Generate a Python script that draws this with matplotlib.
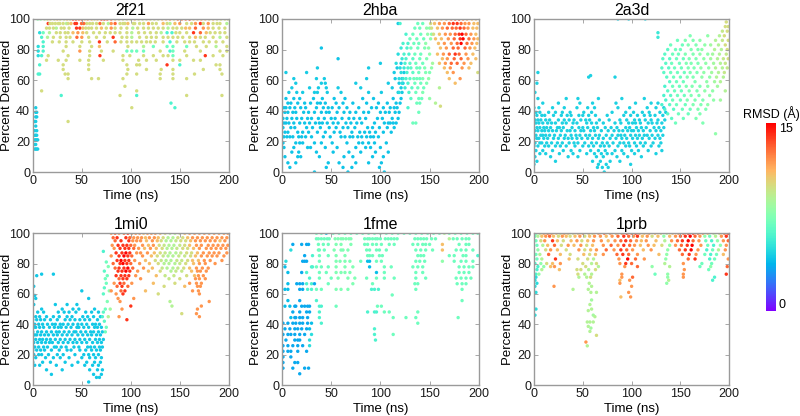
import numpy as np
import matplotlib
matplotlib.use("Agg")
import matplotlib.pyplot as plt

plt.rcParams['font.family'] = ['Liberation Sans', 'DejaVu Sans']

TITLES = ["2f21", "2hba", "2a3d", "1mi0", "1fme", "1prb"]
X_TICKS = [0, 50, 100, 150, 200]
Y_TICKS = [0, 20, 40, 60, 80, 100]
CBAR_TICKS = [0, 15]
RMSD_MIN, RMSD_MAX = 0, 15
X_LABEL = "Time (ns)"
Y_LABEL = "Percent Denatured"
CBAR_LABEL = "RMSD (Å)"

# Each row: (percent denatured, [times ns], rmsd list or single rmsd)
ROWS_2F21 = [
    (100, [5,8,12,15,18,22,25,28,32,35,38,41,44,47,50,53,56,60,63,66,70,73,76,80,84,88,92,96,100,104,
           108,112,116,120,124,128,132,136,140,144,148,152,156,160,164,168,172,176,180,184,188,192,196,199],
          [8,8,9,10,10,10,11,10,10,11,10,14,14,13,14,11,12,11,10,11,14,14,13,13,11,10,10,10,10,11,
           10,10,10,10,10,10,11,11,12,10,13,13,13,14,11,11,12,11,10,11,10,10,10,10]),
    (97, [15.7,17.4,26,27.6,31,34.4,36,43,44.6,49.7,55,58,65,68.5,72,77,84,89,94,97,102.5,104,109,118,126,133,140,150,157,162,171,174,179,184,191,198],
         [14,10,10,10,10,9,10,14,14,13,10,10,10,13,10,9,13,10,10,11,10,10,10,12,10,11,9,12,10,10,14,10,12,10,10,9]),
    (97, [20,23,39,52,61,80,92,113,122,137,145,166,188], [10,10,11,13,10,12,10,10,10,10,11,12,10]),
    (94, [14,21,24,29,44.6,48,51,57,60,65,75,84,96,102,113,123,128,138,147,152,160,174,184,196],
         [10,10,9,10,14,14,11,10,10,10,10,10,10,9,10,10,10,9,10,10,11,12,10,10]),
    (94, [17,32,37,54,70,80,90,107,118,133,143,156,166,179,190], [10,10,10,10,11,12,10,10,10,10,10,11,13,11,10]),
    (91, [7,10.6,17,24,33,36,41,55,68,79,89,96,101,108,120,137,142,150,164,171,181,191],
         [5,7,9,10,10,10,11,10,10,10,10,10,9,10,10,6,6,10,14,13,10,10]),
    (91, [28,46,51,62,74,84,114,126,131,146,157,177,186,196], [10,12,11,10,10,10,10,10,9,10,10,11,10,10]),
    (88, [9,21,28,34,38,57,65,82,91,101,109,116,126,133,143,153,160,171,184,191,198],
         [6,10,10,10,10,10,10,14,10,9,10,10,10,10,10,10,10,10,10,9,10]),
    (88, [15,45,50,73,96,121,138,148,166,176], [9,13,12,10,10,10,10,10,11,10]),
    (85, [10.6,34,41,58,68,84,96,106,116,125,133,140,147,155,165,174,187,194],
         [6,10,10,10,14,13,10,10,10,10,10,6,10,10,10,10,10,10]),
    (85, [20,27,50,76,90,101,111,120,160,180], 10),
    (82, [5.5,10.6,34,48,60,68,97,113,123,137,143,157,167,177,187,198],
         [5,6,10,10,10,11,10,9,7,7,7,7,10,10,9,10]),
    (79, [5.5,10.6,31,48,58,70,82,96,101,106,113,130,140,143,155,171,191,198],
         [5,6,10,12,10,10,10,7,7,7,7,10,6,7,10,10,10,10]),
    (76, [5.5,9,15.7,36,58,68.5,92,99,113,123,133,138,143,157,176,184,194],
         [5,6,10,10,10,14,10,10,10,10,10,10,7,10,14,10,10]),
    (73, [14,26,34,48,57,72,92,108,116,126,143,150,164,171], 10),
    (70, [7,31,57,96,106,109,137,150,187,191], [6,10,10,10,10,10,14,6,10,10]),
    (67, [31,57,97,116,131,143,174,191], 10),
    (64, [5.5,7,33,36,96,106,130,143,165,193], [6,6,10,10,10,10,10,10,10,10]),
    (61, [36,60,67,92,130,143,157], 10),
    (56, [94], 10),
    (53, [9,106], 10),
    (50, [29,89,106,157,193], [6,10,6,10,10]),
    (45, [141], 6),
    (42, [101,145], [10,6]),
    (33, [36], 10),
    (42, [3], 4.5), (39, [3,4], 4.5), (36, [3,4], 4.5), (33, [2,3], 4.5), (30, [3], 4.5),
    (27, [2,4], 4.5), (24, [2,3,4], 4.5), (21, [2,3,4,5], 4.5), (18, [2,3], 4.5), (15, [2,3,4,5], 4.5),
]

ROWS_2HBA = [
    (0, [33,67,104], 4.2),
    (3, [8,45,62,71,99], 4.2),
    (6, [6,14,47,58,75,88,101], 4.2),
    (10, [3,16,19,38,63,72,92,103], 4.2),
    (13, [10,17,35,52,68,80,95,108], 4.2),
    (16, [2,12,26,29,44,56,75,85,90,100], 4.2),
    (19, [1,14,18,21,33,40,51,66,78,82,88,94,106], 4.2),
    (23, [0,2,5,8,11,17,20,24,30,42,49,60,64,69,72,77,81,86,90,93,98], 4.2),
    (26, [3,6,16,21,27,36,44,53,59,71,79,84,89,95,103,111], 4.2),
    (29, [1,9,13,25,31,39,48,55,62,67,74,87,92,99,107,114], 4.2),
    (32, [0,2,4,7,12,18,23,28,34,38,41,46,52,57,65,70,76,81,94,104,108,110,113,116], 4.2),
    (35, [1,5,10,15,20,26,30,37,43,50,54,61,68,73,79,85,97,102,112,118], 4.2),
    (39, [0,3,6,11,14,22,27,33,40,45,48,56,63,69,75,83,88,100,105,109,115,119], 4.2),
    (42, [2,4,8,13,19,24,35,42,47,51,58,66,78,91,96,103,110,114,117], 4.2),
    (45, [6,9,16,23,29,36,39,44,55,62,72,86,98,107,116,120], 4.2),
    (48, [4,12,18,32,41,53,64,82,93,113,121], 4.2),
    (52, [7,15,21,33,36,46,60,88,101,118,122], 4.4),
    (55, [10,28,37,45,57,80,112,121], 4.4),
    (58, [14,40,44,75,108,119,123], 4.4),
    (61, [12,35,43,86,115,122], 4.4),
    (65, [4,25,114,124], 4.4),
    (68, [36,88,117], 4.4),
    (71, [100,121], 4.4),
    (74, [57], 4.2),
    (81, [40], 4.2),
    (97, [118], 4.5),
    # transition
    (97, [120,138,143], [6,7,7]),
    (94, [135,140,147,150], [7,7,8,8]),
    (90, [126,133,141,148,152], [6,7,7,8,8]),
    (87, [130,137,144,151], [7,7,7,8]),
    (84, [123,128,134,139,146], [6,6,7,7,8]),
    (81, [121,127,131,138,145,149], [5.5,6,7,7,7.5,8]),
    (77, [118,124,129,135,141,150], [5,6,6,7,7,8]),
    (74, [122,126,133,140,147], [5.5,6,6.5,7,7.5]),
    (71, [116,125,130,136,143,153], [5,6,6.5,7,7,8.5]),
    (68, [120,124,128,131,137,140,145,152], [5,5.5,6,6.5,7,7,7.5,8]),
    (65, [121,127,133,139,146,150], [5,6,6.5,7,7.5,7.5]),
    (61, [119,123,126,130,134,137,140,143,149], [5,5.5,6,6.5,7,7,7,7.5,8]),
    (58, [122,128,135,141,147], [5,6,7,7,7.5]),
    (55, [125,132,138,144,160], [5.5,6.5,7,7,9]),
    (52, [119,129,136,143], [5,6,7,7.5]),
    (48, [131,139,142,150], [6.5,7,7,8]),
    (45, [137,140,156], [7,7,9]),
    (43, [161], [10]),
    (42, [128], [6]),
    (39, [139], [7]),
    (32, [133,136], [7,7]),
    # unfolded
    (100, [153,157,162,167,172,176,180,184,188,193,197], [10,11,11,12,13,14,14,13,12,11,11]),
    (97, [151,155,160,165,170,174,178,182,186,190,195,199], [10,11,12,12,13,14,14,13,12,12,11,11]),
    (94, [152,158,163,168,173,177,181,185,189,194,198], [10,11,12,13,13,13,14,13,12,11,11]),
    (90, [154,160,166,171,176,180,183,187,192,197], [10,11,12,12,13,14,15,13,12,11]),
    (87, [156,162,169,175,181,184,190,195,199], [11,11,12,13,14,15,13,12,11]),
    (84, [159,165,172,178,182,188,193,198], [11,12,12,13,15,13,12,11]),
    (81, [161,167,174,179,186,191,196], [11,12,13,13,13,12,11]),
    (77, [158,164,170,176,180,187,194], [11,12,13,14,13,12,11]),
    (74, [163,168,175,182,189,197], [11,12,13,13,12,11]),
    (71, [160,166,172,178,185,192], [11,12,13,13,12,11]),
    (68, [165,171,183,190], [11,12,12,11]),
    (65, [168,174,199], [11,12,10]),
    (61, [170,181], [11,12]),
    (58, [176], [11]),
]

ROWS_2A3D = [
    (0, [72], 4.6),
    (3, [65,70,76], 4.6),
    (5, [0,66,74,99], 4.6),
    (7, [3,22,60,68,78,88], 4.6),
    (10, [1,17,35,45,64,71,85,96,110], 4.6),
    (12, [6,12,26,40,54,62,69,75,80,92,103,125], 4.6),
    (14, [2,9,19,30,38,47,58,66,73,83,90,100,107,117,131], 4.6),
    (17, [0,4,11,15,22,27,33,42,50,56,61,68,72,77,86,94,98,105,112,120,128], 4.6),
    (19, [1,6,8,13,18,24,29,36,41,45,52,59,64,70,75,81,88,92,97,103,109,114,122,130], 4.6),
    (22, [0,3,5,10,14,20,25,31,35,39,44,49,55,60,66,71,78,84,90,95,101,106,111,118,124,129], 4.6),
    (24, [2,7,9,12,16,21,27,32,38,43,47,53,57,63,67,74,80,86,89,93,99,104,108,113,116,121,127,132], 4.6),
    (27, [0,1,4,8,11,15,19,23,28,34,37,42,48,51,58,62,69,76,82,87,91,96,100,102,107,112,119,125,130], 4.6),
    (29, [3,6,10,13,17,24,26,30,39,46,50,55,61,65,73,79,85,94,98,105,110,115,123,128,133], 4.6),
    (32, [0,2,5,9,14,18,22,29,33,40,44,54,59,64,71,83,89,97,101,104,109,117,121,126,131], 4.6),
    (34, [1,4,7,12,16,25,31,36,41,48,53,57,67,77,88,95,103,108,114,120,127,134], 4.6),
    (37, [3,8,11,20,28,34,38,46,50,56,63,75,92,99,106,113,119,124,132], 4.6),
    (39, [2,6,15,22,29,37,51,59,80,94,102,111,118,129,135], 4.6),
    (42, [0,5,19,31,44,55,62,86,98,116,125,133], 4.6),
    (45, [9,25,47,60,84,104,120,127], 4.6),
    (48, [4,33,45,66,90,113], 4.6),
    (52, [1], 4.6), (58, [3], 4.6), (62, [56,83], 4.6), (63, [58], 4.6), (65, [4], 4.6),
    (100, [86,97,114], 4.6),
    (91, [127], 5.5), (88, [127], 5.5),
    (98, [197], [10]),
    (95, [196,199], [10,10]),
    (92, [193,198], [9.5,10]),
    (89, [160,178,190,195], [7.5,8,9,10]),
    (86, [147,155,163,170,186,193,199], [7,7.5,7.5,8,9,9.5,10]),
    (83, [140,152,158,166,175,181,189,196], [7,7,7.5,7.5,8,8.5,9,10]),
    (80, [137,145,150,161,168,172,185,192,198], [6.5,7,7,7.5,7.5,8,9,9,10]),
    (77, [134,142,148,155,163,170,178,183,190,197], [6.5,7,7,7.5,7.5,8,8,8.5,9,9.5]),
    (74, [132,139,146,153,159,166,174,181,188,194,199], [6.5,6.5,7,7,7.5,7.5,8,8.5,9,9.5,10]),
    (71, [135,141,149,156,161,168,176,184,191,196], [6.5,7,7,7.5,7.5,7.5,8,8.5,9,9.5]),
    (68, [131,138,144,151,158,164,171,179,186,193,198], [6.5,6.5,7,7,7.5,7.5,8,8,9,9,9.5]),
    (65, [133,140,147,154,160,167,174,182,189,195], [6.5,7,7,7,7.5,7.5,8,8.5,9,9.5]),
    (62, [136,143,150,157,163,172,180,187,194], [6.5,7,7,7.5,7.5,8,8,9,9]),
    (59, [139,146,153,165,177,185,191], [6.5,7,7,7.5,8,8.5,9]),
    (56, [134,142,149,156,162,170,178,188], [6,7,7,7.5,7.5,7.5,8,8.5]),
    (53, [137,144,151,159,167,175,183,196], [6.5,7,7,7.5,7.5,8,8,9]),
    (50, [133,140,147,154,161,169,180], [6,6.5,7,7,7.5,7.5,8]),
    (47, [135,142,150,157,165,173,184,191], [6,7,7,7.5,7.5,7.5,8,8.5]),
    (44, [131,139,146,155,163,171,178], [6,6.5,7,7,7.5,7.5,8]),
    (41, [134,143,152,160,168,176], [6,6.5,7,7,7.5,7.5]),
    (38, [137,148,158,170], [6.5,7,7,7.5]),
    (35, [141,153,166], [6.5,7,7.5]),
    (32, [145,173], [7,7.5]),
    (25, [186], [8]),
]

ROWS_1MI0 = [
    (2, [57], 4.3),
    (5, [65,68], 4.3),
    (7, [19,62,70], 4.3),
    (10, [14,30,58,66,71], 4.3),
    (13, [2,7,24,40,53,61,67], 4.3),
    (15, [0,10,18,33,46,55,63,69], 4.3),
    (18, [3,13,21,28,37,50,58,64,70], 4.3),
    (20, [1,6,9,16,25,31,43,52,57,62,67], 4.3),
    (23, [0,4,8,12,19,27,35,39,48,54,60,65,69], 4.3),
    (25, [2,6,11,15,22,24,29,34,42,47,56,59,63,68,71], 4.3),
    (28, [1,5,9,13,17,20,26,31,36,41,45,50,55,61,66,70], 4.3),
    (30, [0,3,7,10,14,18,23,28,33,38,43,48,53,58,64,68,72], 4.3),
    (33, [2,4,8,12,16,21,25,30,35,40,46,51,56,60,65,69], 4.3),
    (35, [0,5,9,14,19,24,27,32,37,42,44,49,54,59,62,67,71], 4.3),
    (38, [1,3,7,11,17,22,26,29,34,39,45,47,52,57,63,66,70], 4.3),
    (40, [2,6,10,15,20,23,28,31,36,41,46,50,55,61,64,68], 4.3),
    (43, [0,4,8,12,18,25,33,38,43,48,53,58,66], 4.3),
    (45, [3,7,14,21,27,35,40,51,56,62,69], 4.3),
    (48, [5,11,26,32,37,44,54,60,67], 4.3),
    (50, [9,30,41,47,63], 4.3),
    (53, [1,23,35,45], 4.3),
    (57, [3,57], 4.3), (59, [2], 4.3), (62, [50], 4.3), (65, [1], 4.3),
    (72, [4], 4.3), (73, [9,21], 4.3),
    # transition
    (48, [72], [6.5]), (50, [74], [7]), (42, [73], [6.5]), (38, [75], [7]), (35, [74], [7]),
    (45, [71], [6]), (55, [76], [7.5]), (60, [72], [6.5]), (64, [73], [6.5]), (67, [75], [7]),
    (70, [74], [7]), (72, [76], [7]), (75, [73], [6.5]), (78, [77], [7.5]), (81, [75], [7]),
    (88, [72], [6]), (62, [78], [8]), (50, [79], [8.5]), (45, [77], [9]),
    # unfolded
    (100, [80,84,88,93,97,101,105,109,113,117,121,125,130,135,140,145,150,155,160,165,170,175,180,185,190,195,199],
          [12,13,12,13,14,12,12,12,11,12,12,12,11,10,9,9,10,11,12,12,12,12,12,12,12,12,12]),
    (97, [82,86,95,99,103,107,111,115,119,124,128,133,138,143,148,153,158,163,168,173,178,183,188,193,198],
         [13,14,14,13,12,12,12,11,12,12,11,10,9,9,10,10,11,12,12,12,12,12,12,12,12]),
    (95, [84,90,98,102,106,110,116,122,127,131,136,141,146,151,156,161,166,171,176,181,186,191,196],
         [13,14,14,12,12,12,11,12,11,10,9,9,9.5,10,10,11,12,12,12,12,12,11,12]),
    (92, [81,87,92,96,100,104,112,118,123,129,134,139,144,150,155,160,167,172,179,184,189,194,199],
         [12,14,14,14,13,12,12,11,12,10,9.5,9,9,9.5,10,11,12,12,12,12,12,12,12]),
    (90, [83,89,94,98,103,108,114,120,126,132,137,142,147,153,158,164,170,177,182,187,192,197],
         [12,14,14,14,13,12,11,12,11,10,9,9,9.5,10,10,11,12,12,12,12,12,12]),
    (87, [85,91,95,99,106,110,117,124,130,135,140,146,151,157,162,168,174,180,185,190,198],
         [14,14,15,14,12,12,12,11,10,9.5,9,9,9.5,10,10,11,12,12,12,12,12]),
    (85, [80,88,93,97,101,112,121,127,133,138,143,149,155,161,166,172,178,183,188,195],
         [12,14,15,14,13,12,11,10,9.5,9,9,9.5,9.5,10,11,12,12,12,12,12]),
    (82, [86,90,94,98,104,115,125,131,136,141,147,152,158,163,169,175,181,193],
         [14,15,14,14,12,11,10,9.5,9,9,9.5,9.5,10,11,11,12,12,12]),
    (80, [82,89,92,96,100,109,119,128,134,139,145,150,156,164,170,176,186],
         [13,14,15,14,13,12,11,10,9,9,9,9.5,10,11,12,12,12]),
    (77, [84,88,93,97,102,113,122,132,137,143,148,154,160,167,173,179],
         [13,14,14,15,13,12,11,9.5,9,9,9.5,10,11,12,12,12]),
    (75, [87,91,95,99,107,118,130,141,146,152,162,168,171,177],
         [14,14,15,14,12,11,10,9,9.5,9.5,11,12,12,12]),
    (72, [85,90,94,98,105,126,135,144,157,165,169,174],
         [14,14,14,14,12,11,9.5,9.5,10,11,12,12]),
    (70, [88,92,96,110,139,150,166,170,176], [13,14,14,12,9.5,10,12,12,12]),
    (67, [83,89,93,101,123,145,160,167,172], [12,14,13,12,11,10,12,12,12]),
    (65, [86,91,97,134,155,168,171], [13,14,13,10,11,12,12]),
    (62, [80,90,94,115,163,169], [12,13,14,11,12,12]),
    (60, [85,92,128,170], [12,14,10,12]),
    (57, [87,103], [12,12]),
    (55, [89,140,180], [12,9,12]),
    (52, [100,142,172], [14,9,12]),
    (50, [91,168], [12,12]),
    (47, [152,167], [10,12]),
    (45, [88,170], [12,12]),
    (43, [96], [14]),
]

ROWS_1FME = [
    (100, [35,40,45,52,58,64,70,76,82,88,94,100,106,112,118,124,130,136,142,148,154,160,165,170,176,182,188,194,199],
          [7,7,4,7,7,7,7,7,7,7,7,7,7,7,7,7,7,7,7,7,7,7,9,7,7,7,7,7,7]),
    (96.3, [35,37,40,43,46,48,54,57,60,62,65,68,70,84,87,89,92,95,97,100,105,108,111,114,117,135,138,141,144,147,152,156,170,174,178,183,187,190],
           [7,7,7,7,7,7,7.5,7.5,7.5,7.5,7.5,7.5,7.5,7,7,7,7,7,7,7,7,7,7,7,7,7,7,7,7,7,7,7,9,7,7,7,7,7]),
    (92.6, [11,20,25,27,37,42,47,55,60,70,84,87,92,96,101,109,114,133,138,143,146,150,163,180,187,190],
           [3.5,3.5,3.5,3.5,7,7,7,7.5,7.5,7.5,7,7,7,7,7,7,7,7,7,7,7,7,11,7,7,7]),
    (88.9, [9,37,38,43,53,60,62,67,86,89,96,99,106,136,141,146,153,163,177,182,187,194],
           [5,7,7,7,7.5,7.5,7.5,7.5,7,7,7,7,7,7,7,7,7,11,7,7,7,7]),
    (85.2, [23,31,38,47,55,64,87,89,92,99,102,138,141,144,170,175,184,187,199],
           [3.5,6,7,7,7.5,7.5,7,7,7,7,7,7,7,7,7,7,7,7,6]),
    (81.5, [4,21,23,25,38,55,59,64,69,80,87,89,96,101,136,140,145,163,175,182,187,194],
           [5,3.5,3.5,3.5,7,7.5,7.5,7.5,7.5,7,4,4,7,7,7,7,7,8,7,7,7,7]),
    (77.8, [3,30,31,35,40,47,55,64,72,89,104,111,133,138,143,180,185,190,194],
           [4,6,6,7,7,7,7.5,7.5,7.5,4,7,7,7,7,7,7,7,7,7]),
    (74.1, [6,20,25,38,45,55,60,64,69,96,104,136,143,180,185,190],
           [4,3.5,6,7,7,7.5,7.5,7.5,7.5,4,7,7,7,7,7,7]),
    (70.4, [28,38,50,57,67,74,86,96,104,114,136,146,177,182,187,192],
           [6,7,7,7.5,7.5,7.5,7,7,7,7,7,7,7,7,7,7]),
    (66.7, [6,15,18,21,25,30,33,47,72,92,135,138,178,183,187],
           [4,3.5,3.5,3.5,6,6,3.5,7,7.5,7,7,7,7,7,7]),
    (63, [3,6,18,21,26,30,35,40,55,60,67,91,94,98,136,183],
         [4,4,3.5,3.5,6,6,7,7,7.5,7.5,7.5,6,6,6,7,7]),
    (59.3, [112], [7]),
    (55.6, [6,18,35,183], [4,3.5,6,7]),
    (51.9, [3,8,13,14,20,23,26,28,38,40,55,97,101], [4,4,3.5,3.5,3.5,3.5,3.5,3.5,6,6,7,7,7]),
    (48.1, [11,18,25,28,38,87,94,96,104,109,138], [3.5,3.5,3.5,3.5,6,6,6,6,7,7,7]),
    (44.4, [9,13,14,18,21,26,38,113,126,136,179], [4,3.5,3.5,3.5,3.5,3.5,6,7,7,7,7]),
    (40.7, [1,6,11,14,18,21,26,30,40,138], [3.5,3.5,3.5,3.5,3.5,3.5,3.5,4,6,7]),
    (37, [3,8,13,16,20,25,28,94], [3.5,3.5,3.5,3.5,3.5,3.5,4,6]),
    (33.3, [1,6,9,13,18,23,30,94,113], [3.5,3.5,3.5,3.5,3.5,3.5,5,6,7]),
    (29.6, [4,13,16,18,28,95], [3.5,3.5,3.5,3.5,5,6]),
    (25.9, [1,6,11,16,21,28], [3.5,3.5,3.5,3.5,3.5,5]),
    (22.2, [1,6,9,16,25], 3.5),
    (18.5, [1,9], 3.5),
    (14.8, [1,13,16], 3.5),
    (11.1, [1,11,23,27], 3.5),
    (7.4, [18], 3.5),
]

ROWS_1PRB = [
    (100, [2,6,10,14,18,23,27,31,35,40,45,50,56,60,66,72,78,84,90,95,100,104,108,113,118,124,130,136,142,148,153,158,163,168,173,178,184,190,195,199],
          [7,10,12,13,12,11,10,12,11,10,11,12,11,10,12,13,12,11,12,14,13,14,12,11,12,11,10,9,11,12,13,14,14,13,12,11,9,10,13,14]),
    (98, [1,4,8,12,16,20,25,29,33,37,42,47,52,57,62,68,74,80,86,92,97,102,106,111,116,121,127,133,139,145,150,155,160,165,170,175,180,186,192,197],
         [7,9,11,12,13,11,10,12,11,10,11,12,10,11,12,12,11,12,13,14,13,12,14,11,12,10,11,8,11,12,13,14,15,13,12,8,7,9,12,14]),
    (95, [2,7,11,19,24,30,38,44,49,55,61,69,76,83,89,94,99,105,110,115,125,134,141,147,152,158,163,169,176,182,188,194,199],
         [7,10,12,14,11,10,11,12,10,11,12,12,11,12,13,14,13,12,11,12,11,9,12,13,14,15,13,12,7,6,8,12,13]),
    (92, [3,9,14,21,28,35,41,48,54,60,71,79,86,92,98,103,109,117,123,131,139,145,151,157,162,171,178,184,191,197],
         [7,9,11,13,10,12,11,12,10,11,12,13,12,14,13,12,11,12,11,10,8,12,13,14,15,12,7,6,8,12]),
    (89, [4,12,17,24,33,46,52,58,64,74,82,89,95,101,112,120,137,149,155,161,168,177,183,189,196],
         [8,10,12,11,10,12,10,11,12,13,12,14,13,12,11,12,8,13,14,15,12,6,7,9,12]),
    (86, [2,6,15,27,37,51,57,63,71,85,91,97,106,128,136,152,159,166,175,181,187,194],
         [7,9,13,11,10,11,10,11,12,13,14,13,12,11,8,13,14,12,7,6,7,11]),
    (83, [3,8,22,36,45,55,61,87,96,104,113,135,158,165,180,185,199],
         [7,9,14,11,10,10,9,12,15,13,12,8,13,14,6,7,12]),
    (80, [1,7,13,19,27,50,59,64,88,94,100,134,153,172,182],
         [6,8,10,11,12,10,9,10,12,14,13,9,12,7,7]),
    (78, [4,10,17,21,53,66,93,106,121,139,170,181,198],
         [6,8,11,12,10,9,12,13,8,9,7,8,13]),
    (76, [3,8,26,44,48,56,63,154,179], [6,9,11,10,10,9,10,12,7]),
    (73, [2,5,45,52,59,90,124,137,153,197], [6,8,10,9,9,12,7,8,12,14]),
    (71, [2,46,54,58,90,101,137,185,153], [5,9,9,10,12,13,8,6,12]),
    (69, [1,88,98,138,183], [5,11,12,9,6]),
    (67, [3,56.6,136,88], [5,9,8,12]),
    (65, [1,20.5,59,100], [5,12,9,12]),
    (63, [40,55.6], [9,9]),
    (61, [58.3,64,97,2], [9,9,12,5]),
    (58, [99,89], [12,11]),
    (56, [59], [8.5]),
    (53, [57.3], [9]),
    (50, [59,2], [9,5]),
    (49, [55.6], [9]),
    (46, [60.7,1], [8.5,5]),
    (45, [62.4], [9]),
    (41.5, [54.6,57.3,60.7], [9,9,9]),
    (38.6, [55.6], [9]),
    (37.5, [58.3], [8.5]),
    (35.3, [57.3], [9]),
    (32.7, [64], [10]),
    (28.3, [53.2], [12]),
    (25.8, [54.6], [9]),
]

PANEL_ROWS = [ROWS_2F21, ROWS_2HBA, ROWS_2A3D, ROWS_1MI0, ROWS_1FME, ROWS_1PRB]


def flatten(rows):
    t, p, r = [], [], []
    for pct, times, rm in rows:
        if np.isscalar(rm):
            rm = [rm] * len(times)
        assert len(rm) == len(times), (pct, times, rm)
        t += list(times)
        p += [pct] * len(times)
        r += list(rm)
    return np.array(t, float), np.array(p, float), np.array(r, float)


fig = plt.figure(figsize=(8, 4.16), dpi=100)
col_left = [0.041, 0.3525, 0.6675]
col_w = [0.245, 0.246, 0.244]
row_bottom = [0.5865, 0.0745]
row_h = [0.368, 0.365]

spine_col = '#9a9a9a'
sc = None
for i, (title, rows) in enumerate(zip(TITLES, PANEL_ROWS)):
    rr, cc = divmod(i, 3)
    ax = fig.add_axes([col_left[cc], row_bottom[rr], col_w[cc], row_h[rr]])
    t, p, r = flatten(rows)
    sc = ax.scatter(t, p, c=r, cmap='rainbow', vmin=RMSD_MIN, vmax=RMSD_MAX,
                    s=6, linewidths=0)
    ax.set_xlim(0, 200)
    ax.set_ylim(0, 100)
    ax.set_xticks(X_TICKS)
    ax.set_yticks(Y_TICKS)
    ax.tick_params(direction='in', top=True, right=True, length=3, width=0.6,
                   color=spine_col, labelsize=9, pad=2, labelcolor='#1a1a1a')
    for s in ax.spines.values():
        s.set_color(spine_col)
        s.set_linewidth(1.0)
    ax.set_title(title, fontsize=11.5, pad=3)
    ax.set_xlabel(X_LABEL, fontsize=9.5, labelpad=2)
    ax.set_ylabel(Y_LABEL, fontsize=9.5)
    ax.yaxis.set_label_coords(-0.10, 0.5)

cax = fig.add_axes([0.9575, 0.252, 0.0125, 0.452])
cb = fig.colorbar(sc, cax=cax, ticks=CBAR_TICKS)
cb.outline.set_visible(False)
cax.tick_params(length=0, labelsize=9, pad=2)
labs = cax.get_yticklabels()
labs[0].set_verticalalignment('bottom')
labs[-1].set_verticalalignment('top')
cax.set_title(CBAR_LABEL, fontsize=9, pad=4)

fig.savefig("out.png", dpi=100)
